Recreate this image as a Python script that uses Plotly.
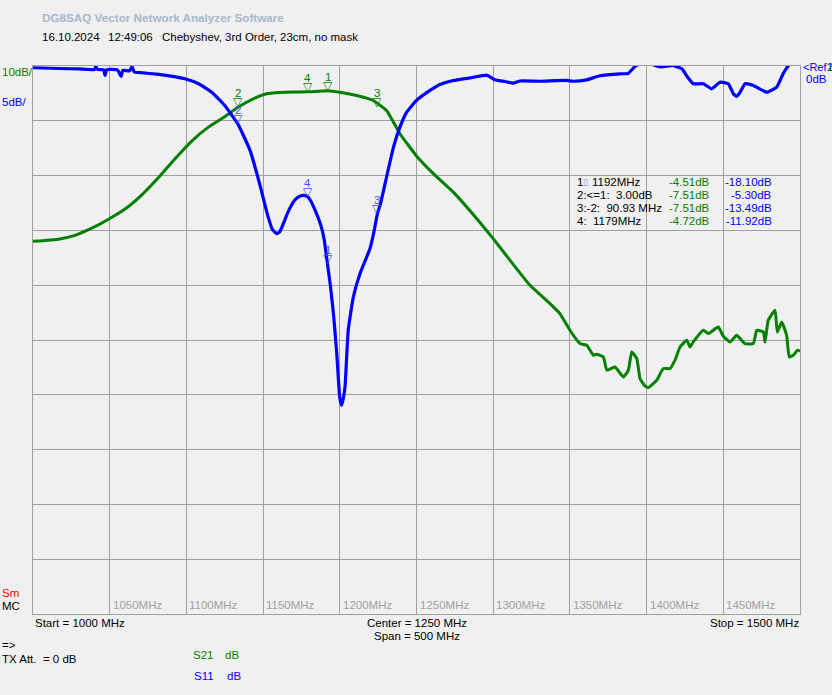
import plotly.graph_objects as go

# ---------------- data ----------------
s21_freq = [1000, 1016.5, 1027.4, 1038.3, 1049, 1060, 1071, 1081.7, 1092.6, 1103.5, 1114.3, 1125.2,
            1133.6, 1143.6, 1152.3, 1161, 1170, 1179, 1192, 1200, 1211, 1218, 1221.8, 1230.5, 1235,
            1239.2, 1250, 1261, 1274, 1289.3, 1300, 1311, 1324, 1337, 1343.5, 1350, 1356.6, 1361,
            1365.3, 1367.5, 1371.8, 1374.1, 1379.4, 1384.8, 1388.1, 1390.3, 1393.6, 1395.7, 1399,
            1401.1, 1406.6, 1410.9, 1415.3, 1418.5, 1421.8, 1426.2, 1428.3, 1430.4, 1437, 1440.2,
            1446.7, 1450, 1454.4, 1458.7, 1464.1, 1469.6, 1471.8, 1476.1, 1477.2, 1479.3, 1483.7,
            1485.2, 1488.1, 1491.3, 1493, 1495.6, 1498.3, 1500]
s21_db = [-32.0, -31.6, -30.9, -29.6, -28.0, -26.1, -23.5, -20.4, -16.92, -13.7, -11.16, -9.21,
          -7.51, -5.98, -5.07, -4.83, -4.75, -4.72, -4.51, -4.78, -5.38, -5.9, -6.29, -8.11, -10.25,
          -12.36, -16.41, -19.65, -23.01, -27.86, -31.51, -35.46, -40.02, -43.36, -45.18, -48.22, -50.65, -50.96,
          -52.78, -52.60, -53.09, -55.52, -54.92, -56.74, -55.52, -52.18, -53.38, -57.03, -58.43,
          -58.67, -57.34, -55.21, -55.21, -53.69, -51.27, -50.05, -51.27, -50.36, -48.22, -48.83,
          -47.62, -49.32, -50.36, -49.14, -50.65, -50.65, -48.22, -48.53, -50.36, -46.40, -44.58,
          -48.53, -46.71, -49.14, -53.09, -52.78, -51.87, -52.05]

s11_freq = [1000, 1017, 1030, 1040, 1041, 1042, 1046, 1047, 1048, 1055, 1057.5, 1058.5, 1063, 1064.5,
            1066, 1070, 1082, 1091, 1099, 1108, 1116.5, 1125, 1133.6, 1141.5, 1148, 1153, 1156, 1159,
            1161, 1163.2, 1166, 1169.7, 1173, 1176.2, 1179, 1181, 1184, 1188, 1190, 1192, 1194, 1196,
            1198, 1200, 1201.2, 1202.2, 1203.4, 1205.5, 1208.8, 1213.2, 1219.7, 1222, 1224.5, 1226.5,
            1229.5, 1235, 1239.2, 1243.6, 1250, 1258.8, 1265.3, 1274, 1285, 1296, 1301, 1307.7, 1313,
            1317.5, 1330.5, 1348, 1352, 1361, 1369.6, 1382.7, 1388, 1392.4, 1399, 1405.5, 1410, 1417,
            1423, 1426, 1430.4, 1437, 1442.4, 1447.8, 1453.3, 1456.5, 1458.7, 1461, 1464.2, 1469.6,
            1478.3, 1484.8, 1489, 1492, 1496.7, 1500]
s11_db = [-0.16, -0.23, -0.27, -0.32, -0.05, -0.32, -0.35, -0.87, -0.35, -0.36, -0.96, -0.4, -0.45, -0.05,
          -0.55, -0.6, -0.77, -0.95, -1.17, -1.62, -2.39, -3.60, -5.30, -7.70, -10.89, -13.63, -14.9, -15.30,
          -15.1, -14.39, -13.4, -12.42, -11.95, -11.81, -11.92, -12.3, -13.2, -14.70, -16.0, -18.10, -20.2, -22.8,
          -26.2, -30.3, -30.95, -30.4, -29.28, -24.11, -21.08, -18.94, -16.66, -15.3, -13.49, -12.6,
          -10.74, -7.40, -5.58, -4.21, -3.14, -2.23, -1.69, -1.32, -1.08, -0.84, -1.26, -1.41, -1.57,
          -1.37, -1.39, -1.32, -1.39, -1.26, -0.89, -0.71, -0.68, -0.05, 0.5, 0.05, -0.09, 0.05,
          -0.26, -0.87, -1.62, -1.62, -2.08, -1.48, -1.62, -2.53, -2.78, -2.39, -1.62, -1.78,
          -2.39, -1.93, -0.71, -0.05, 0.7, 1.0]

marker_ids = ["1", "2", "3", "4"]
marker_freq = [1192, 1133.6, 1224.5, 1179]
marker_s21 = [-4.51, -7.51, -7.51, -4.72]
marker_s11 = [-18.10, -5.30, -13.49, -11.92]
marker_desc = ["1192MHz", "2:<=1:  3.00dB", "3:-2:  90.93 MHz", "4:  1179MHz"]

tick_freq = [1050, 1100, 1150, 1200, 1250, 1300, 1350, 1400, 1450]
tick_labels = ["1050MHz", "1100MHz", "1150MHz", "1200MHz", "1250MHz", "1300MHz", "1350MHz", "1400MHz", "1450MHz"]

# ---------------- layout geometry ----------------
FIG_W, FIG_H = 832, 695
L, R, T, B = 33, 800, 66, 614
W, H = R - L, B - T
GREEN = "#008000"
BLUE = "#0000ff"
GRID = "#a0a0a0"
FONT = "Liberation Sans"

fig = go.Figure()
fig.add_trace(go.Scatter(x=s21_freq, y=s21_db, mode="lines", yaxis="y",
                         line=dict(color=GREEN, width=3, shape="spline", smoothing=0.4),
                         hoverinfo="skip", showlegend=False))
fig.add_trace(go.Scatter(x=s11_freq, y=s11_db, mode="lines", yaxis="y2",
                         line=dict(color=BLUE, width=3.2, shape="spline", smoothing=0.4),
                         hoverinfo="skip", showlegend=False))

anns = []


def txt(text, px, py, color="#000000", size=11.5, anchor="left", bold=False):
    if bold:
        text = "<b>" + text + "</b>"
    anns.append(dict(text=text, xref="paper", yref="paper",
                     x=(px - L) / W, y=(B - py) / H, xanchor=anchor, yanchor="middle",
                     showarrow=False, font=dict(family=FONT, size=size, color=color)))


txt("DG8SAQ Vector Network Analyzer Software", 40, 17, "#a9b7ca", 11.7, bold=True)
txt("16.10.2024", 40, 37)
txt("12:49:06", 106, 37)
txt("Chebyshev, 3rd Order, 23cm, no mask", 160, 37)
txt("10dB/", 0, 72, GREEN)
txt("5dB/", 0, 102, BLUE)
txt("&lt;Ref", 801, 67, BLUE, size=11)
txt("1", 825, 67, BLUE, size=11)
txt("2", 825, 67, GREEN, size=11)
txt("0dB", 804, 79, BLUE)
txt("Sm", 0, 593, "#ff0000")
txt("MC", 0, 606)
txt("Start = 1000 MHz", 33, 623)
txt("Center = 1250 MHz", 416.5, 623, anchor="center")
txt("Span = 500 MHz", 416.5, 636, anchor="center")
txt("Stop = 1500 MHz", 801, 623, anchor="right")
txt("=&gt;", 0, 645)
txt("TX Att.\u00a0\u00a0= 0 dB", 0, 659)
txt("S21", 191, 655, GREEN)
txt("dB", 223, 655, GREEN)
txt("S11", 192, 676, BLUE)
txt("dB", 225, 676, BLUE)

# marker table
rows_y = [182, 195, 208, 221]
for i, mid in enumerate(marker_ids):
    if i == 0:
        txt(mid, 575, rows_y[i])
        txt("<span style='color:#8080c0'>\u25af</span>", 581, rows_y[i], size=9)
        txt(marker_desc[i], 590, rows_y[i])
    else:
        txt(marker_desc[i], 575, rows_y[i])
    txt(f"{marker_s21[i]:.2f}dB", 712, rows_y[i], GREEN, anchor="right")
    txt(f"{marker_s11[i]:.2f}dB", 774, rows_y[i], BLUE, anchor="right")

# x tick labels inside the plot
for f, lab in zip(tick_freq, tick_labels):
    anns.append(dict(text=lab, xref="x", yref="paper", x=f, y=0, xanchor="left", yanchor="bottom",
                     xshift=1, yshift=1, showarrow=False, font=dict(family=FONT, size=11.5, color=GRID)))

# markers on traces
for mid, f, v21, v11 in zip(marker_ids, marker_freq, marker_s21, marker_s11):
    for yr, v, col in (("y", v21, GREEN), ("y2", v11, "#4a4aff")):
        anns.append(dict(text="\u25bd", xref="x", yref=yr, x=f, y=v, xanchor="center", yanchor="bottom",
                         yshift=-4, showarrow=False, font=dict(family="DejaVu Sans", size=12, color=col)))
        anns.append(dict(text=mid, xref="x", yref=yr, x=f, y=v, xanchor="center", yanchor="bottom",
                         yshift=6, showarrow=False, font=dict(family=FONT, size=11.5, color=col)))

fig.update_layout(
    width=FIG_W, height=FIG_H,
    margin=dict(l=L, r=FIG_W - R, t=T, b=FIG_H - B, pad=0),
    paper_bgcolor="#f0f0f0", plot_bgcolor="#f0f0f0",
    font=dict(family=FONT, size=11.5, color="#000000"),
    showlegend=False,
    xaxis=dict(range=[1000, 1500], dtick=50, tick0=1000, showgrid=True, gridcolor=GRID, gridwidth=1,
               showticklabels=False, ticks="", zeroline=False, showline=True, mirror=True,
               linecolor=GRID, linewidth=1),
    yaxis=dict(range=[-100, 0], dtick=10, showgrid=True, gridcolor=GRID, gridwidth=1,
               showticklabels=False, ticks="", zeroline=False, showline=True, mirror=True,
               linecolor=GRID, linewidth=1),
    yaxis2=dict(range=[-50, 0], overlaying="y", showgrid=False, showticklabels=False, ticks="",
                zeroline=False, showline=False),
    annotations=anns,
)

fig.write_html("out.html", config={"displayModeBar": False})
